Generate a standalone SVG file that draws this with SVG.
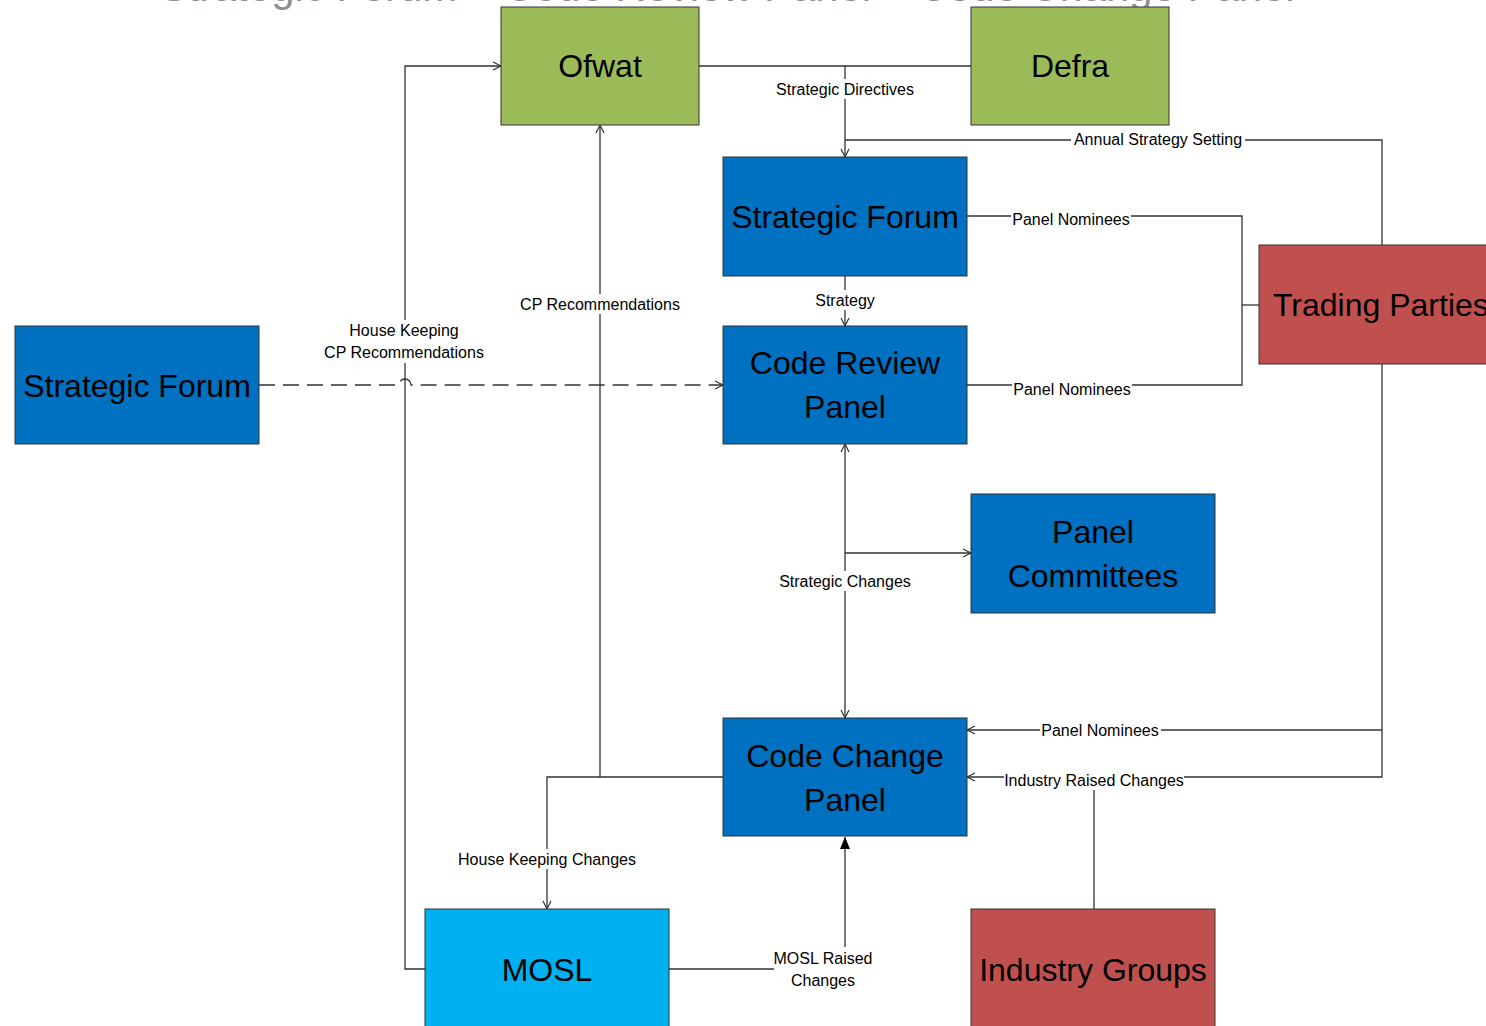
<svg xmlns="http://www.w3.org/2000/svg" width="1486" height="1026" viewBox="0 0 1486 1026">
<style>
.node{stroke:#333;stroke-width:1}
.green{fill:#9BBB59}
.blue{fill:#0070C0}
.cyan{fill:#00B0F0}
.red{fill:#C0504D}
.nt{font-family:"Liberation Sans",Arial,sans-serif;font-size:32px;fill:#000;text-anchor:middle}
.nts{font-family:"Liberation Sans",Arial,sans-serif;font-size:32px;fill:#000;text-anchor:start}
.lbl{font-family:"Liberation Sans",Arial,sans-serif;font-size:16px;fill:#000;text-anchor:middle}
.ln{fill:none;stroke:#333;stroke-width:1.3}
.bg{fill:#fff}
</style>
<defs>
<marker id="open" markerWidth="12" markerHeight="12" refX="9" refY="5" orient="auto" markerUnits="userSpaceOnUse">
<path d="M1,1 L9,5 L1,9" fill="none" stroke="#333" stroke-width="1.2"/>
</marker>
<marker id="openStart" markerWidth="12" markerHeight="12" refX="1" refY="5" orient="auto" markerUnits="userSpaceOnUse">
<path d="M9,1 L1,5 L9,9" fill="none" stroke="#333" stroke-width="1.2"/>
</marker>
<marker id="filled" markerWidth="12" markerHeight="16" refX="12" refY="5" orient="auto" markerUnits="userSpaceOnUse">
<path d="M0,0 L12,5 L0,10 Z" fill="#000"/>
</marker>
</defs>
<rect width="1486" height="1026" fill="#fff"/>
<text x="727" y="1" font-family="Liberation Sans,Arial,sans-serif" font-size="42" fill="#909090" text-anchor="middle" textLength="1135" lengthAdjust="spacingAndGlyphs">Strategic Forum – Code Review Panel – Code Change Panel</text>

<g id="connectors">
<path class="ln" d="M699,66 H971"/>
<path class="ln" d="M845,66 V157" marker-end="url(#open)"/>
<path class="ln" d="M1382,245 V140 H845"/>
<path class="ln" d="M967,216 H1242 V385 H967"/>
<path class="ln" d="M1242,305 H1259"/>
<path class="ln" d="M845,276 V326" marker-end="url(#open)"/>
<path class="ln" d="M723,777 H600 V125" marker-end="url(#open)"/>
<path class="ln" d="M600,777 H547 V909" marker-end="url(#open)"/>
<path class="ln" d="M425,969 H405 V66 H501" marker-end="url(#open)"/>
<path class="ln" d="M259,385 H399 A6,6 0 0 1 411,385 H723" stroke-dasharray="16,8" marker-end="url(#open)"/>
<path class="ln" d="M845,444 V718" marker-start="url(#openStart)" marker-end="url(#open)"/>
<path class="ln" d="M845,553 H971" marker-end="url(#open)"/>
<path class="ln" d="M1382,364 V777 H967" marker-end="url(#open)"/>
<path class="ln" d="M1382,730 H967" marker-end="url(#open)"/>
<path class="ln" d="M1094,909 V790"/>
<path class="ln" d="M669,969 H845 V837" marker-end="url(#filled)"/>

<rect class="bg" x="773" y="79" width="144" height="20"/>
<text class="lbl" x="845" y="95">Strategic Directives</text>
<rect class="bg" x="1071" y="130" width="174" height="20"/>
<text class="lbl" x="1158" y="145">Annual Strategy Setting</text>
<rect class="bg" x="1011" y="209" width="120" height="20"/>
<text class="lbl" x="1071" y="225">Panel Nominees</text>
<rect class="bg" x="1012" y="379" width="120" height="20"/>
<text class="lbl" x="1072" y="395">Panel Nominees</text>
<rect class="bg" x="813" y="290" width="64" height="20"/>
<text class="lbl" x="845" y="306">Strategy</text>
<rect class="bg" x="518" y="294" width="164" height="20"/>
<text class="lbl" x="600" y="310">CP Recommendations</text>
<rect class="bg" x="458" y="849" width="178" height="20"/>
<text class="lbl" x="547" y="865">House Keeping Changes</text>
<rect class="bg" x="322" y="320" width="164" height="43"/>
<text class="lbl" x="404" y="336">House Keeping</text>
<text class="lbl" x="404" y="358">CP Recommendations</text>
<rect class="bg" x="777" y="571" width="136" height="20"/>
<text class="lbl" x="845" y="587">Strategic Changes</text>
<rect class="bg" x="1040" y="720" width="121" height="20"/>
<text class="lbl" x="1100" y="736">Panel Nominees</text>
<rect class="bg" x="1004" y="770" width="180" height="20"/>
<text class="lbl" x="1094" y="786">Industry Raised Changes</text>
<rect class="bg" x="774" y="947" width="98" height="44"/>
<text class="lbl" x="823" y="964">MOSL Raised</text>
<text class="lbl" x="823" y="986">Changes</text>
</g>

<g id="ofwat"><rect class="node green" x="501" y="7" width="198" height="118"/><text class="nt" x="600" y="77">Ofwat</text></g>
<g id="defra"><rect class="node green" x="971" y="7" width="198" height="118"/><text class="nt" x="1070" y="77">Defra</text></g>
<g id="strategic-forum-top"><rect class="node blue" x="723" y="157" width="244" height="119"/><text class="nt" x="845" y="228">Strategic Forum</text></g>
<g id="strategic-forum-left"><rect class="node blue" x="15" y="326" width="244" height="118"/><text class="nt" x="137" y="397">Strategic Forum</text></g>
<g id="code-review-panel"><rect class="node blue" x="723" y="326" width="244" height="118"/><text class="nt" x="845" y="374">Code Review</text><text class="nt" x="845" y="418">Panel</text></g>
<g id="panel-committees"><rect class="node blue" x="971" y="494" width="244" height="119"/><text class="nt" x="1093" y="543">Panel</text><text class="nt" x="1093" y="587">Committees</text></g>
<g id="code-change-panel"><rect class="node blue" x="723" y="718" width="244" height="118"/><text class="nt" x="845" y="767">Code Change</text><text class="nt" x="845" y="811">Panel</text></g>
<g id="mosl"><rect class="node cyan" x="425" y="909" width="244" height="130"/><text class="nt" x="547" y="981">MOSL</text></g>
<g id="industry-groups"><rect class="node red" x="971" y="909" width="244" height="130"/><text class="nt" x="1093" y="981">Industry Groups</text></g>
<g id="trading-parties"><rect class="node red" x="1259" y="245" width="244" height="119"/><text class="nts" x="1273" y="316">Trading Parties</text></g>
</svg>
